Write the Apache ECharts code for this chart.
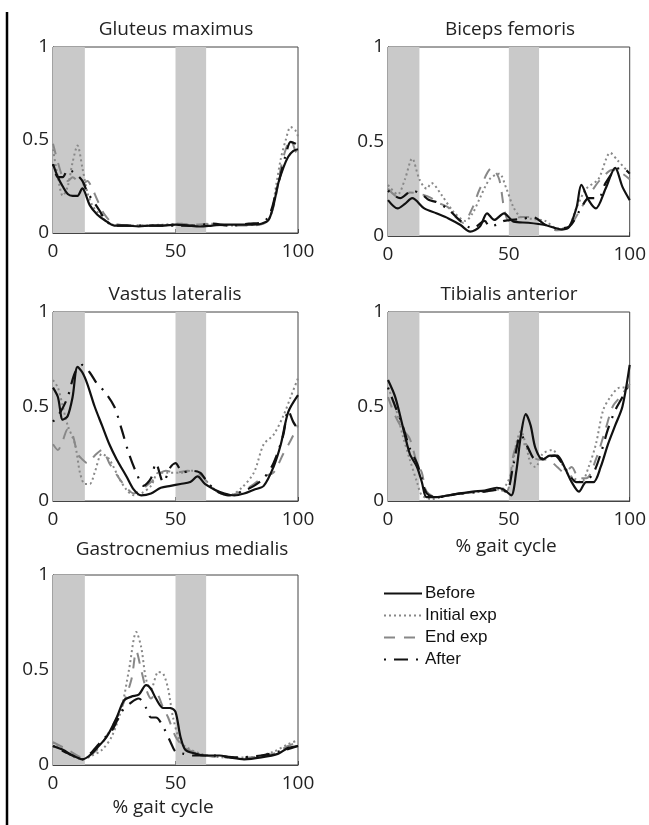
<!DOCTYPE html>
<html><head><meta charset="utf-8">
<script src="https://cdn.jsdelivr.net/npm/echarts@6/dist/echarts.min.js"></script>
<style>html,body{margin:0;padding:0;background:#fff}#c{width:649px;height:825px}</style>
</head><body><div id="c"></div>
<script>
const muscles = ["Gluteus maximus","Biceps femoris","Vastus lateralis","Tibialis anterior","Gastrocnemius medialis"];
const seriesNames = ["Before","Initial exp","End exp","After"];
const xTicks = [0,50,100];
const yTicks = [0,0.5,1];
const bands = [[0,13],[50,62.5]];

const glutBefore = [[0,0.37],[2,0.3],[4,0.25],[6,0.21],[8,0.2],[10,0.2],[12,0.24],[13,0.22],[15,0.15],[18,0.1],[21,0.07],[25,0.04],[30,0.04],[35,0.035],[40,0.04],[45,0.04],[50,0.045],[55,0.04],[60,0.035],[65,0.04],[70,0.045],[75,0.045],[80,0.045],[85,0.05],[88,0.07],[90,0.15],[92,0.27],[94,0.35],[96,0.41],[98,0.44],[100,0.45]];
const glutInitial = [[0,0.45],[2,0.3],[4,0.2],[6,0.25],[8,0.38],[10,0.47],[12,0.35],[14,0.22],[16,0.15],[19,0.1],[22,0.06],[26,0.04],[35,0.04],[45,0.045],[52,0.05],[58,0.04],[65,0.05],[72,0.04],[80,0.045],[86,0.05],[89,0.1],[91,0.25],[93,0.4],[95,0.5],[97,0.57],[99,0.55],[100,0.52]];
const glutEnd = [[0,0.48],[2,0.38],[4,0.3],[6,0.28],[8,0.3],[10,0.28],[12,0.26],[14,0.28],[16,0.24],[18,0.18],[21,0.1],[25,0.05],[35,0.04],[45,0.04],[52,0.05],[58,0.045],[64,0.05],[70,0.04],[80,0.04],[86,0.05],[89,0.1],[91,0.2],[93,0.35],[95,0.45],[97,0.5],[99,0.44],[100,0.42]];
const glutAfter = [[0,0.37],[2,0.3],[4,0.3],[6,0.34],[8,0.33],[10,0.31],[12,0.28],[14,0.22],[17,0.16],[19,0.12],[22,0.06],[26,0.04],[35,0.04],[45,0.04],[52,0.04],[58,0.04],[65,0.05],[72,0.04],[80,0.05],[86,0.06],[89,0.12],[91,0.22],[93,0.32],[95,0.42],[97,0.49],[99,0.48],[100,0.47]];

const bicBefore = [[0,0.19],[4,0.146],[7,0.17],[10,0.2],[15,0.146],[20,0.12],[25,0.093],[30,0.058],[34,0.023],[38,0.05],[41,0.12],[44,0.085],[48,0.12],[52,0.076],[58,0.07],[65,0.058],[72,0.035],[75,0.05],[78,0.15],[80,0.27],[83,0.19],[86,0.146],[90,0.25],[94,0.36],[97,0.26],[100,0.19]];
const bicInitial = [[0,0.27],[4,0.22],[7,0.3],[10,0.41],[13,0.3],[16,0.25],[18,0.28],[22,0.22],[27,0.13],[32,0.08],[35,0.12],[38,0.2],[42,0.3],[46,0.33],[49,0.25],[52,0.15],[55,0.1],[60,0.09],[65,0.08],[70,0.04],[74,0.04],[78,0.15],[82,0.25],[87,0.3],[92,0.44],[95,0.4],[100,0.33]];
const bicEnd = [[0,0.25],[5,0.2],[9,0.23],[14,0.22],[18,0.2],[20,0.18],[25,0.15],[28,0.1],[31,0.07],[35,0.15],[38,0.25],[43,0.36],[46,0.3],[48,0.15],[50,0.08],[55,0.1],[60,0.1],[65,0.06],[70,0.03],[75,0.05],[80,0.15],[85,0.25],[88,0.3],[93,0.35],[97,0.33],[100,0.3]];
const bicAfter = [[0,0.24],[5,0.2],[10,0.24],[14,0.22],[17,0.19],[20,0.18],[25,0.14],[30,0.08],[35,0.04],[40,0.08],[42,0.05],[45,0.06],[48,0.08],[55,0.09],[60,0.1],[65,0.06],[70,0.04],[75,0.05],[80,0.15],[83,0.2],[87,0.2],[90,0.28],[94,0.35],[97,0.36],[100,0.33]];

const vasBefore = [[0,0.6],[2,0.55],[4,0.43],[6,0.45],[8,0.55],[10,0.71],[12,0.68],[14,0.62],[17,0.5],[20,0.4],[23,0.3],[26,0.22],[30,0.13],[33,0.06],[36,0.03],[40,0.04],[44,0.07],[48,0.08],[52,0.09],[56,0.1],[59,0.13],[62,0.09],[66,0.06],[70,0.04],[74,0.03],[78,0.04],[82,0.06],[86,0.08],[90,0.18],[93,0.3],[96,0.47],[100,0.56]];
const vasInitial = [[0,0.64],[2,0.6],[4,0.5],[6,0.4],[9,0.3],[11,0.15],[13,0.09],[15,0.09],[17,0.15],[20,0.25],[23,0.22],[27,0.12],[30,0.06],[33,0.03],[36,0.04],[40,0.08],[43,0.15],[47,0.15],[52,0.15],[57,0.16],[60,0.15],[63,0.1],[67,0.05],[72,0.03],[77,0.07],[82,0.15],[86,0.3],[90,0.35],[94,0.45],[97,0.55],[100,0.65]];
const vasEnd = [[0,0.3],[2,0.27],[4,0.32],[6,0.38],[8,0.35],[10,0.25],[12,0.22],[14,0.2],[17,0.24],[20,0.27],[23,0.2],[27,0.12],[30,0.07],[33,0.04],[36,0.06],[40,0.1],[43,0.14],[46,0.16],[50,0.15],[55,0.16],[60,0.14],[63,0.1],[67,0.05],[72,0.03],[77,0.05],[82,0.09],[86,0.13],[90,0.15],[94,0.25],[97,0.32],[100,0.4]];
const vasAfter = [[0,0.42],[3,0.47],[6,0.55],[9,0.68],[12,0.72],[15,0.68],[18,0.62],[21,0.58],[25,0.5],[28,0.38],[31,0.25],[34,0.15],[37,0.08],[40,0.12],[42,0.2],[45,0.1],[48,0.18],[50,0.2],[53,0.15],[56,0.16],[60,0.15],[63,0.1],[67,0.05],[72,0.03],[77,0.05],[82,0.08],[86,0.12],[90,0.2],[94,0.35],[96,0.48],[98,0.42],[100,0.38]];

const tibBefore = [[0,0.64],[3,0.55],[6,0.4],[9,0.25],[12,0.18],[14,0.1],[16,0.02],[20,0.02],[25,0.03],[30,0.04],[35,0.05],[40,0.055],[45,0.07],[48,0.06],[51,0.03],[53,0.15],[55,0.35],[57,0.46],[59,0.4],[61,0.28],[64,0.22],[67,0.24],[70,0.24],[73,0.18],[76,0.1],[79,0.05],[82,0.1],[85,0.1],[88,0.18],[91,0.3],[94,0.4],[97,0.5],[100,0.72]];
const tibInitial = [[0,0.6],[3,0.5],[6,0.35],[9,0.22],[12,0.1],[14,0.03],[18,0.01],[22,0.02],[30,0.04],[40,0.05],[45,0.06],[48,0.07],[51,0.15],[53,0.3],[55,0.37],[57,0.3],[59,0.2],[61,0.18],[64,0.25],[68,0.27],[71,0.22],[74,0.15],[77,0.12],[80,0.1],[83,0.18],[86,0.3],[89,0.48],[92,0.55],[96,0.6],[100,0.6]];
const tibEnd = [[0,0.55],[3,0.45],[6,0.38],[9,0.33],[12,0.2],[14,0.15],[16,0.05],[20,0.02],[25,0.03],[30,0.04],[40,0.05],[45,0.06],[49,0.05],[52,0.25],[54,0.3],[57,0.3],[59,0.25],[62,0.22],[66,0.22],[70,0.18],[73,0.15],[76,0.18],[79,0.12],[82,0.12],[86,0.22],[90,0.38],[93,0.5],[96,0.55],[100,0.62]];
const tibAfter = [[0,0.6],[3,0.5],[6,0.4],[9,0.28],[12,0.2],[14,0.12],[16,0.04],[20,0.02],[30,0.04],[40,0.05],[46,0.06],[49,0.05],[52,0.2],[55,0.35],[58,0.28],[61,0.22],[65,0.23],[69,0.24],[72,0.2],[75,0.14],[78,0.1],[81,0.1],[85,0.15],[88,0.25],[91,0.38],[94,0.48],[97,0.55],[100,0.63]];

const gasBefore = [[0,0.1],[4,0.08],[8,0.05],[12,0.03],[15,0.05],[18,0.09],[22,0.15],[26,0.25],[29,0.34],[32,0.36],[35,0.37],[38,0.42],[40,0.4],[42,0.35],[45,0.3],[48,0.3],[50,0.28],[52,0.15],[54,0.08],[58,0.06],[62,0.05],[68,0.05],[72,0.04],[78,0.03],[85,0.04],[92,0.06],[96,0.09],[100,0.1]];
const gasInitial = [[0,0.12],[6,0.06],[12,0.03],[16,0.05],[20,0.08],[24,0.15],[28,0.3],[31,0.5],[34,0.7],[36,0.62],[38,0.45],[40,0.4],[43,0.49],[45,0.48],[47,0.4],[49,0.25],[52,0.12],[55,0.09],[60,0.06],[70,0.04],[80,0.04],[90,0.07],[96,0.11],[100,0.13]];
const gasEnd = [[0,0.12],[6,0.08],[12,0.04],[18,0.08],[24,0.2],[28,0.3],[32,0.45],[34,0.6],[36,0.5],[38,0.4],[40,0.35],[42,0.38],[45,0.3],[47,0.25],[50,0.15],[53,0.1],[57,0.07],[62,0.05],[70,0.04],[80,0.04],[90,0.06],[96,0.1],[100,0.12]];
const gasAfter = [[0,0.1],[8,0.05],[12,0.03],[16,0.07],[20,0.13],[24,0.18],[28,0.28],[32,0.33],[35,0.35],[38,0.3],[40,0.25],[42,0.25],[45,0.2],[48,0.12],[50,0.07],[53,0.06],[57,0.05],[65,0.05],[75,0.04],[85,0.05],[95,0.08],[100,0.1]];

const panelData = [
  [glutBefore, glutInitial, glutEnd, glutAfter],
  [bicBefore, bicInitial, bicEnd, bicAfter],
  [vasBefore, vasInitial, vasEnd, vasAfter],
  [tibBefore, tibInitial, tibEnd, tibAfter],
  [gasBefore, gasInitial, gasEnd, gasAfter]
];

const grids = [
  {left:53, top:47, width:245, height:186},
  {left:388, top:47, width:244, height:189},
  {left:53, top:312, width:245, height:189},
  {left:388, top:312, width:244, height:189},
  {left:53, top:575, width:245, height:190}
];
const titlePos = [[171,25],[505,25],[170,290],[504,290],[177,545]];
const styles = [
  {color:'#111', type:'solid', width:2.2},
  {color:'#888', type:[2,3], width:2},
  {color:'#888', type:[11,9], width:2},
  {color:'#111', type:[2,8,14,8], width:2.2}
];
const font = '"Open Sans", "DejaVu Sans", sans-serif';

const option = {
  animation:false,
  backgroundColor:'#fff',
  grid: grids.map(g => Object.assign({show:true, borderColor:'#444', borderWidth:1, containLabel:false}, g)),
  xAxis: grids.map((g,i) => ({type:'value', gridIndex:i, min:0, max:100, interval:50,
    axisLine:{show:true, lineStyle:{color:'#444'}}, axisTick:{show:true, inside:true, length:4, lineStyle:{color:'#444'}},
    splitLine:{show:false}, axisLabel:{color:'#222', fontSize:19, fontFamily:font, margin:9}})),
  yAxis: grids.map((g,i) => ({type:'value', gridIndex:i, min:0, max:1, interval:0.5,
    axisLine:{show:true, lineStyle:{color:'#444'}}, axisTick:{show:true, inside:true, length:4, lineStyle:{color:'#444'}},
    splitLine:{show:false}, axisLabel:{color:'#222', fontSize:19, fontFamily:font, margin:4,
      formatter: v => String(v)}})),
  legend: {orient:'vertical', left:378, top:580, itemWidth:38, itemHeight:14, itemGap:5,
    data: seriesNames, itemStyle:{opacity:0},
    textStyle:{fontSize:17, fontFamily:'"Liberation Sans", Arial, sans-serif', color:'#111', padding:[0,0,0,-2]}},
  title: muscles.map((m,i) => ({text:m, left:titlePos[i][0], top:titlePos[i][1], textAlign:'center', textVerticalAlign:'middle',
    textStyle:{fontSize:19, fontWeight:'normal', fontFamily:font, color:'#222'}})),
  graphic: [
    {type:'line', shape:{x1:7, y1:12, x2:7, y2:825}, style:{stroke:'#000', lineWidth:2.5}},
    {type:'text', x:506, y:547, style:{text:'% gait cycle', fontSize:19, fontFamily:font, fill:'#222', align:'center', verticalAlign:'middle'}},
    {type:'text', x:163, y:808, style:{text:'% gait cycle', fontSize:19, fontFamily:font, fill:'#222', align:'center', verticalAlign:'middle'}}
  ],
  series: []
};

for (let p = 0; p < 5; p++) {
  option.series.push({type:'line', xAxisIndex:p, yAxisIndex:p, data:[], silent:true, z:1,
    markArea:{silent:true, itemStyle:{color:'#c9c9c9'}, data: bands.map(b => [{xAxis:b[0]},{xAxis:b[1]}])}});
  for (let s = 0; s < 4; s++) {
    option.series.push({type:'line', name:seriesNames[s], xAxisIndex:p, yAxisIndex:p, data:panelData[p][s],
      symbol:'none', smooth:0.3, z:3 + (s===0?2:0), lineStyle:styles[s], itemStyle:{color:styles[s].color}});
  }
}

const chart = echarts.init(document.getElementById('c'), null, {renderer:'canvas'});
chart.setOption(option);
</script>
</body></html>
